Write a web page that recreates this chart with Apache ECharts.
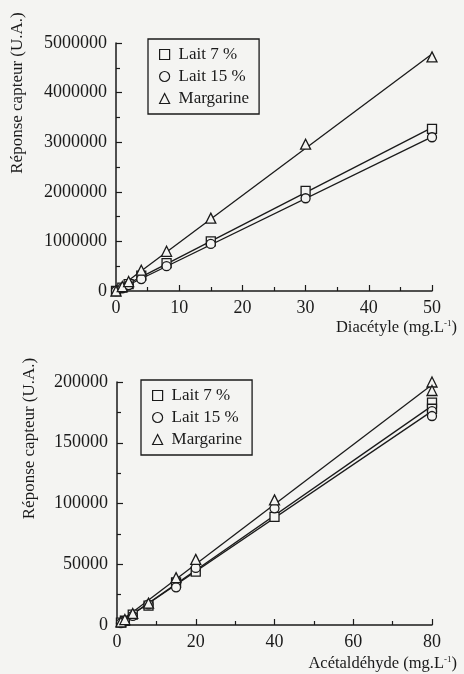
<!DOCTYPE html>
<html>
<head>
<meta charset="utf-8">
<script src="https://cdn.jsdelivr.net/npm/echarts@6/dist/echarts.min.js"></script>
<style>
html,body{margin:0;padding:0;background:#f4f4f2;}
#c{width:464px;height:674px;}
</style>
</head>
<body>
<div id="c"></div>
<script>
// ---- Top chart: Diacétyle ----
var diacX = [0, 1, 2, 4, 8, 15, 30, 50];
var diacLait7 = [0, 70000, 140000, 310000, 560000, 1000000, 2020000, 3270000];
var diacLait15 = [0, 55000, 120000, 240000, 500000, 950000, 1870000, 3100000];
var diacMarg = [0, 90000, 190000, 420000, 800000, 1470000, 2960000, 4720000];
var diacYTicks = [0, 1000000, 2000000, 3000000, 4000000, 5000000];
var diacXTicks = [0, 10, 20, 30, 40, 50];

// ---- Bottom chart: Acétaldéhyde ----
var acetX = [1, 2, 4, 8, 15, 20, 40, 80, 80];
var acetLait7 = [2000, 3500, 8500, 16000, 35000, 44000, 89000, 183000, 178000];
var acetLait15 = [1500, 3000, 7500, 17000, 31000, 47000, 96000, 176000, 172000];
var acetMarg = [2500, 4500, 9500, 18000, 39000, 54000, 103000, 200000, 193000];
var acetYTicks = [0, 50000, 100000, 150000, 200000];
var acetXTicks = [0, 20, 40, 60, 80];

var seriesNames = ['Lait 7 %', 'Lait 15 %', 'Margarine'];
var symbols = ['rect', 'circle', 'triangle'];
var symbolSizes = [9, 9, 10];

var BG = '#f4f4f2';
var INK = '#1a1a1a';
var FONT = 'Liberation Serif';

function pairs(xs, ys){ return xs.map(function(x,i){ return [x, ys[i]]; }); }
function fitLine(xs, ys){
  var n = xs.length, sx=0, sy=0, sxx=0, sxy=0;
  for (var i=0;i<n;i++){ sx+=xs[i]; sy+=ys[i]; sxx+=xs[i]*xs[i]; sxy+=xs[i]*ys[i]; }
  var b = (n*sxy - sx*sy)/(n*sxx - sx*sx);
  var a = (sy - b*sx)/n;
  var x0 = 0, x1 = Math.max.apply(null, xs);
  return [[x0, Math.max(0, a + b*x0)], [x1, a + b*x1]];
}

var series = [];
function addChart(idx, xs, ysList){
  ysList.forEach(function(ys, k){
    series.push({
      type: 'line', xAxisIndex: idx, yAxisIndex: idx,
      data: fitLine(xs, ys), showSymbol: false, silent: true,
      lineStyle: {color: INK, width: 1.3}, z: 2
    });
  });
  ysList.forEach(function(ys, k){
    series.push({
      name: seriesNames[k], type: 'scatter', xAxisIndex: idx, yAxisIndex: idx,
      data: pairs(xs, ys), symbol: symbols[k], symbolSize: symbolSizes[k],
      itemStyle: {color: BG, borderColor: INK, borderWidth: 1.3, opacity: 1}, z: 3
    });
  });
}
addChart(0, diacX, [diacLait7, diacLait15, diacMarg]);
addChart(1, acetX, [acetLait7, acetLait15, acetMarg]);

function plain(v){ return String(v); }

function xAxisCfg(idx, ticks, nameText, padTop){
  return {
    type: 'value', gridIndex: idx,
    min: ticks[0], max: ticks[ticks.length-1], interval: ticks[1]-ticks[0],
    axisLine: {show: true, lineStyle: {color: INK, width: 1.5}},
    axisTick: {show: true, inside: true, length: 6, lineStyle: {color: INK, width: 1.2}},
    minorTick: {show: true, splitNumber: 2, length: 4, lineStyle: {color: INK, width: 1.2}},
    axisLabel: {color: INK, fontFamily: FONT, fontSize: 18, margin: 8, formatter: plain},
    splitLine: {show: false},
    name: nameText,
    nameLocation: 'end', nameGap: 25, nameMoveOverlap: false,
    nameTextStyle: {
      color: INK, fontFamily: FONT, fontSize: 16.5, align: 'right', verticalAlign: 'top',
      padding: [padTop, 0, 0, 0],
      rich: {sup: {fontSize: 9, fontFamily: FONT, color: INK, padding: [0, 0, 8, 0]}}
    }
  };
}
function yAxisCfg(idx, ticks, gap, padL){
  return {
    type: 'value', gridIndex: idx,
    min: ticks[0], max: ticks[ticks.length-1], interval: ticks[1]-ticks[0],
    axisLine: {show: true, lineStyle: {color: INK, width: 1.5}},
    axisTick: {show: true, inside: true, length: 6, lineStyle: {color: INK, width: 1.2}},
    minorTick: {show: true, splitNumber: 2, length: 4, lineStyle: {color: INK, width: 1.2}},
    axisLabel: {color: INK, fontFamily: FONT, fontSize: 18, margin: 9, formatter: plain},
    splitLine: {show: false},
    name: 'Réponse capteur (U.A.)',
    nameLocation: 'middle', nameGap: gap, nameMoveOverlap: false,
    nameTextStyle: {color: INK, fontFamily: FONT, fontSize: 17, padding: [0, 0, 0, padL]}
  };
}

function legendCfg(left, top){
  return {
    data: seriesNames, orient: 'vertical', left: left, top: top,
    backgroundColor: BG, borderColor: INK, borderWidth: 1.3, borderRadius: 0,
    padding: [7, 10, 7, 11],
    itemGap: 5, itemWidth: 10, itemHeight: 10,
    itemStyle: {borderWidth: 1.2},
    textStyle: {color: INK, fontFamily: FONT, fontSize: 17, padding: [0, 0, 0, 4]},
    selectedMode: false
  };
}

var chart = echarts.init(document.getElementById('c'), null, {renderer: 'canvas'});
chart.setOption({
  backgroundColor: BG,
  animation: false,
  grid: [
    {left: 116, right: 32, top: 43, height: 248, containLabel: false, outerBoundsMode: 'none'},
    {left: 117, right: 32, top: 382, height: 243, containLabel: false, outerBoundsMode: 'none'}
  ],
  xAxis: [
    xAxisCfg(0, diacXTicks, 'Diacétyle (mg.L{sup|-1})', 28),
    xAxisCfg(1, acetXTicks, 'Acétaldéhyde (mg.L{sup|-1})', 30)
  ],
  yAxis: [
    yAxisCfg(0, diacYTicks, 90, 148),
    yAxisCfg(1, acetYTicks, 79, 130)
  ],
  legend: [legendCfg(148, 39), legendCfg(141, 380)],
  series: series
});
</script>
</body>
</html>
